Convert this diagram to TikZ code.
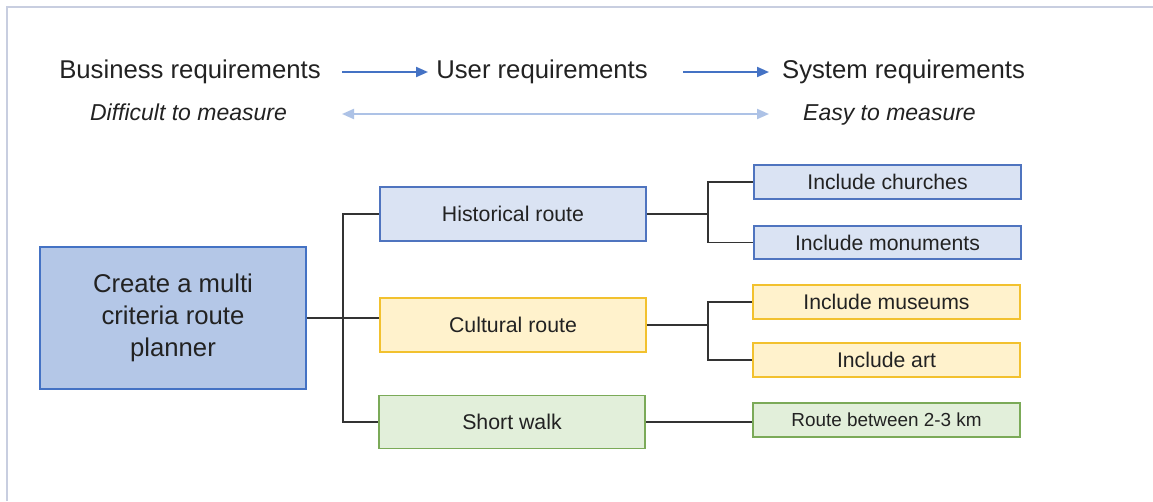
\documentclass[tikz,border=0pt]{standalone}
\usepackage{fontspec}
\setmainfont{Liberation Sans}
\usetikzlibrary{arrows.meta}
\definecolor{txt}{HTML}{222222}
\definecolor{framec}{HTML}{C8CEE0}
\definecolor{darkblue}{HTML}{4472C4}
\definecolor{lightarrow}{HTML}{ADC2E6}
\definecolor{mainfill}{HTML}{B4C7E7}
\definecolor{bfill}{HTML}{DAE3F3}
\definecolor{bdraw}{HTML}{4F74BF}
\definecolor{yfill}{HTML}{FFF2CC}
\definecolor{ydraw}{HTML}{F2C12E}
\definecolor{gfill}{HTML}{E2EFDA}
\definecolor{gdraw}{HTML}{7BAA58}
\definecolor{connc}{HTML}{333333}
\tikzset{
  toptext/.style={inner sep=0pt, anchor=base, text=txt, font=\fontsize{25.7}{30}\selectfont},
  ittext/.style={inner sep=0pt, anchor=base, text=txt, font=\fontsize{23}{28}\selectfont\itshape},
  darkarrow/.style={draw=darkblue, line width=2pt, -{Triangle[length=12pt,width=10pt]}},
  lightdbl/.style={draw=lightarrow, line width=2pt, {Triangle[length=12pt,width=10pt]}-{Triangle[length=12pt,width=10pt]}},
  boxbase/.style={rectangle, line width=1.6pt, inner sep=0pt, text=txt, align=center},
  midbox/.style={boxbase, minimum width=266pt, minimum height=54pt, font=\fontsize{21.3}{26}\selectfont},
  rightbox/.style={boxbase, minimum width=267pt, minimum height=34pt, font=\fontsize{21.2}{26}\selectfont},
  bluebox/.style={fill=bfill, draw=bdraw},
  yellowbox/.style={fill=yfill, draw=ydraw},
  greenbox/.style={fill=gfill, draw=gdraw},
  conn/.style={draw=connc, line width=1.2pt},
}
\begin{document}
\begin{tikzpicture}[x=1pt,y=-1pt]
\useasboundingbox (0,0) rectangle (1153,501);
\fill[white] (0,0) rectangle (1153,501);
% frame
\draw[framec, line width=2pt] (7,501) -- (7,7) -- (1153,7);

% top rows
\node[toptext] (br) at (190,78) {Business requirements};
\node[toptext] (ur) at (542,78) {User requirements};
\node[toptext] (sr) at (903.5,78) {System requirements};
\node[ittext] (dm) at (188.5,120) {Difficult to measure};
\node[ittext] (em) at (889.5,120) {Easy to measure};
\coordinate (a1s) at (342,72);
\coordinate (a1e) at (428,72);
\coordinate (a2s) at (683,72);
\coordinate (a2e) at (769,72);
\coordinate (d1) at (342,114);
\coordinate (d2) at (769,114);
\draw[darkarrow] (a1s) -- (a1e);
\draw[darkarrow] (a2s) -- (a2e);
\draw[lightdbl] (d1) -- (d2);

% main box
\node[boxbase, fill=mainfill, draw=darkblue, minimum width=266pt, minimum height=142pt,
      font=\fontsize{25.7}{32}\selectfont] (main) at (173,318) {Create a multi\\criteria route\\planner};

% middle boxes
\node[midbox, bluebox] (hist) at (513,214) {Historical route};
\node[midbox, yellowbox] (cult) at (513,325) {Cultural route};
\node[midbox, greenbox, minimum height=53pt] (short) at (512,422) {Short walk};

% right boxes
\node[rightbox, bluebox] (church) at (887.5,182) {Include churches};
\node[rightbox, bluebox, minimum height=33pt] (monu) at (887.5,242.5) {Include monuments};
\node[rightbox, yellowbox] (muse) at (886.5,302) {Include museums};
\node[rightbox, yellowbox] (art) at (886.5,360) {Include art};
\node[rightbox, greenbox, font=\fontsize{18.9}{23}\selectfont] (route) at (886.5,420) {Route between 2-3 km};

% connectors
\coordinate (lbx) at (343,0);
\coordinate (rbx) at (708,0);
\draw[conn] (hist.west) -- (hist.west -| lbx) -- (short.west -| lbx) -- (short.west);
\draw[conn] (main.east) -- (main.east -| cult.west);
\draw[conn] (hist.east) -- (hist.east -| rbx);
\draw[conn] (church.west) -- (church.west -| rbx) -- (monu.west -| rbx) -- (monu.west);
\draw[conn] (cult.east) -- (cult.east -| rbx);
\draw[conn] (muse.west) -- (muse.west -| rbx) -- (art.west -| rbx) -- (art.west);
\draw[conn] (short.east) -- (short.east -| route.west);
\end{tikzpicture}
\end{document}
